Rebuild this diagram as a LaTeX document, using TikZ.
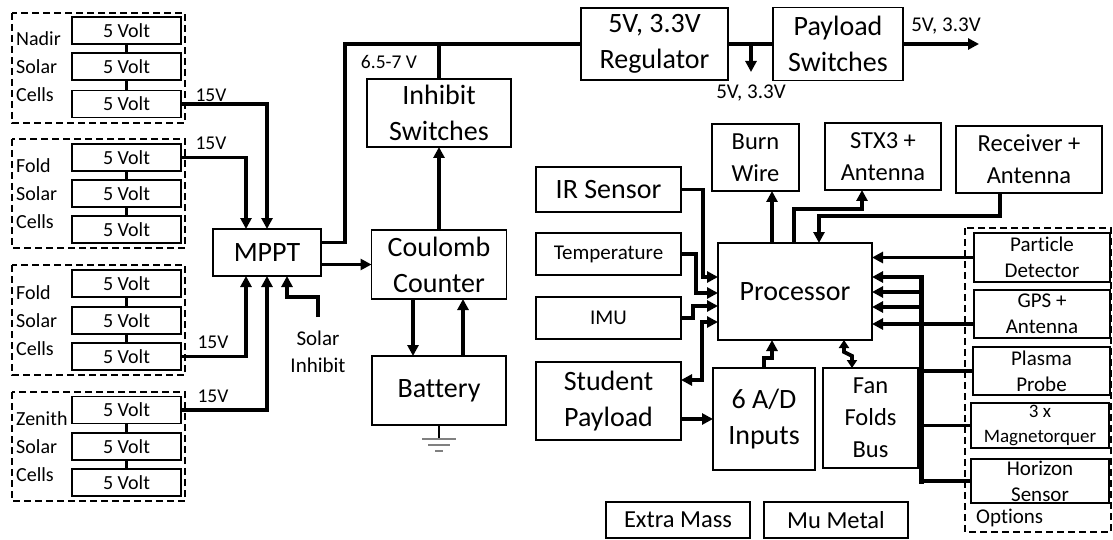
\documentclass[tikz,border=0pt]{standalone}
\usepackage{fontspec}
\setmainfont{Carlito}[Ligatures=NoCommon]
\usetikzlibrary{arrows.meta,calc}
\newcommand\bx[7]{%
  \node[frame,minimum width=#5pt,minimum height=#6pt] (#2) at (#3,#4) {};
  \node[#1] (#2-t) at (#2.center) {#7};}
\begin{document}
\begin{tikzpicture}[x=1pt,y=-1pt,
  frame/.style={draw=black,line width=1.8pt,fill=white,inner sep=0pt,outer sep=0pt},
  tbig/.style={inner sep=0pt,align=center,font=\fontsize{28}{36}\selectfont},
  tmed/.style={inner sep=0pt,align=center,font=\fontsize{24.5}{32}\selectfont},
  tsm/.style={inner sep=0pt,align=center,font=\fontsize{21}{27}\selectfont},
  topt/.style={inner sep=0pt,align=center,font=\fontsize{21}{26}\selectfont},
  tmag/.style={inner sep=0pt,align=center,font=\fontsize{19}{25}\selectfont},
  tcell/.style={inner sep=0pt,align=center,font=\fontsize{20}{24}\selectfont},
  tlab/.style={inner sep=0pt,align=left,anchor=west,font=\fontsize{20}{28}\selectfont},
  tlbl/.style={inner sep=0pt,font=\fontsize{19.5}{24}\selectfont},
  conn/.style={line width=3.8pt},
  arr/.style={conn,-{Triangle[width=11pt,length=11pt]}},
  arrb/.style={conn,{Triangle[width=10pt,length=8pt]}-{Triangle[width=10pt,length=8pt]}},
  bus/.style={line width=5pt,line cap=rect},
  dashbox/.style={draw,line width=1.7pt,dash pattern=on 7pt off 4pt},
  gnd/.style={draw=gray,line width=1.2pt},
]
\fill[white] (0,0) rectangle (1113,540);
\useasboundingbox (0,0) rectangle (1113,540);

% ---- solar panels (dashed groups)
\draw[dashbox] (12,13) rectangle (185,123);
\draw[dashbox] (12,139) rectangle (185,248);
\draw[dashbox] (12,265) rectangle (185,375);
\draw[dashbox] (12,392) rectangle (185,501);

\node[tlab] (nalab) at (16,66.5) {Nadir\\Solar\\Cells};
\node[tlab] (falab) at (16,193.5) {Fold\\Solar\\Cells};
\node[tlab] (fblab) at (16,320.5) {Fold\\Solar\\Cells};
\node[tlab] (zelab) at (16,446.5) {Zenith\\Solar\\Cells};

\bx{tcell}{na1}{126.5}{30.5}{109}{27}{5 Volt}
\bx{tcell}{na2}{126.5}{66.5}{109}{27}{5 Volt}
\bx{tcell}{na3}{126.5}{104}{109}{27}{5 Volt}
\bx{tcell}{fa1}{126.5}{157.5}{109}{27}{5 Volt}
\bx{tcell}{fa2}{126.5}{193.5}{109}{27}{5 Volt}
\bx{tcell}{fa3}{126.5}{229.5}{109}{27}{5 Volt}
\bx{tcell}{fb1}{126.5}{283.5}{109}{27}{5 Volt}
\bx{tcell}{fb2}{126.5}{320.5}{109}{27}{5 Volt}
\bx{tcell}{fb3}{126.5}{356.5}{109}{27}{5 Volt}
\bx{tcell}{ze1}{126.5}{410}{109}{27}{5 Volt}
\bx{tcell}{ze2}{126.5}{446.5}{109}{27}{5 Volt}
\bx{tcell}{ze3}{126.5}{482.5}{109}{27}{5 Volt}

\draw[conn] (na1.south) -- (na2.north);
\draw[conn] (na2.south) -- (na3.north);
\draw[conn] (fa1.south) -- (fa2.north);
\draw[conn] (fa2.south) -- (fa3.north);
\draw[conn] (fb1.south) -- (fb2.north);
\draw[conn] (fb2.south) -- (fb3.north);
\draw[conn] (ze1.south) -- (ze2.north);
\draw[conn] (ze2.south) -- (ze3.north);

% ---- power chain
\bx{tbig}{mppt}{267}{252.5}{108}{47}{MPPT}
\bx{tbig}{inh}{439}{113}{144}{68}{Inhibit\\Switches}
\bx{tbig}{cc}{439}{264.5}{135}{69}{Coulomb\\Counter}
\bx{tbig}{bat}{439}{390.5}{134}{69}{Battery}
\bx{tbig}{reg}{654.5}{44}{147}{72}{5V, 3.3V\\Regulator}
\bx{tbig}{pay}{838}{44}{130}{73}{Payload\\Switches}

\draw[arr] (na3.east) -| (mppt.north);
\draw[arr] (fa1.east) -| ($(mppt.north)+(-21,0)$);
\draw[arr] (fb3.east) -| ($(mppt.south)+(-21,0)$);
\draw[arr] (ze1.east) -| (mppt.south);
\node[tlbl] (v1) at (211,95) {15V};
\node[tlbl] (v2) at (211,143) {15V};
\node[tlbl] (v3) at (213,342) {15V};
\node[tlbl] (v4) at (213,396) {15V};

\coordinate (si) at (318,317);
\draw[arr] (si) -- ++(0,-20) -| ($(mppt.south)+(20,0)$);
\node[tsm] (silab) at (318,351.5) {Solar\\Inhibit};

\coordinate (jn) at (345,44);
\draw[conn] ([yshift=10pt]mppt.east) -| (jn) -- (reg.west);
\draw[conn] (inh.north |- jn) -- (inh.north);
\node[tlbl] (vbat) at (389,62) {6.5-7 V};

\draw[arr] (mppt.east |- cc.west) -- (cc.west);
\draw[arr] (cc.north) -- (inh.south);
\draw[arr] ($(cc.south)+(-26,0)$) -- ($(bat.north)+(-26,0)$);
\draw[arr] ($(bat.north)+(24,0)$) -- ($(cc.south)+(24,0)$);

\coordinate (g0) at ($(bat.south)+(0,14)$);
\draw[line width=2.5pt] (bat.south) -- (g0);
\draw[gnd] ($(g0)+(-17,0)$) -- ($(g0)+(17,0)$);
\draw[gnd] ($(g0)+(-11,6)$) -- ($(g0)+(11,6)$);
\draw[gnd] ($(g0)+(-4,12)$) -- ($(g0)+(4,12)$);

\draw[conn] (reg.east) -- (pay.west);
\coordinate (rd) at (751,72);
\draw[arr] (rd |- reg.east) -- (rd);
\node[tsm] (vreg) at (751,93) {5V, 3.3V};
\coordinate (po) at (979,44);
\draw[arr] (pay.east) -- (po);
\node[tsm] (vpay) at (946,26) {5V, 3.3V};

% ---- processor side
\bx{tmed}{burn}{755.5}{157.5}{87}{67}{Burn\\Wire}
\bx{tmed}{stx}{883}{156.5}{116}{67}{STX3 +\\Antenna}
\bx{tmed}{rec}{1029}{159.5}{146}{67}{Receiver +\\Antenna}
\bx{tbig}{proc}{795}{291.5}{154}{97}{Processor}
\bx{tbig}{ir}{608.5}{189.5}{145}{45}{IR Sensor}
\bx{tsm}{temp}{608.5}{254}{145}{42}{Temperature}
\bx{tsm}{imu}{608.5}{318}{145}{42}{IMU}
\bx{tbig}{stu}{608.5}{401}{145}{78}{Student\\Payload}
\bx{tbig}{ad}{764}{419}{102}{102}{6 A/D\\Inputs}
\bx{tmed}{fan}{870.5}{418}{95}{100}{Fan\\Folds\\Bus}
\bx{tmed}{extra}{678}{520}{144}{36}{Extra Mass}
\bx{tmed}{mu}{836}{520}{144}{36}{Mu Metal}

\coordinate (p1) at ($(proc.west)+(0,-14.5)$);
\coordinate (p2) at ($(proc.west)+(0,1.5)$);
\coordinate (p3) at ($(proc.west)+(0,14.5)$);
\coordinate (p4) at ($(proc.west)+(0,30.5)$);
\draw[arr] (ir.east) -| ($(p1)+(-15,0)$) -- (p1);
\draw[arr] (temp.east) -| ($(p2)+(-22,0)$) -- (p2);
\draw[arr] (imu.east) -| ($(p3)+(-25,0)$) -- (p3);
\draw[conn,{Triangle[width=11pt,length=11pt]}-{Triangle[width=11pt,length=11pt]}] (p4) -- ($(p4)+(-16,0)$) |- ($(stu.east)+(0,-21)$);
\draw[arr] (stu.east |- ad.west) -- (ad.west);
\draw[arr] (ad.north) -- ++(0,-10) -| ($(proc.south)+(-23,0)$);
\draw[arrb] ($(proc.south)+(49,0)$) -- ++(0,12) -- ++(8,4) -- ($(fan.north)+(-18.5,0)$);

\coordinate (pb) at ($(proc.north)+(-23,0)$);
\draw[arr] (pb) -- (pb |- burn.south);
\coordinate (ps) at ($(proc.north)+(-1,0)$);
\draw[arr] (ps) -- ++(0,-34) -| ($(stx.south)+(-21,0)$);
\coordinate (rp) at ($(rec.south)+(-29,0)$);
\draw[arr] (rp) -- ++(0,23) -| ($(proc.north)+(24,0)$);

% ---- options
\draw[dashbox] (965,228) rectangle (1111,532);
\bx{topt}{part}{1042}{257.5}{136}{49}{Particle\\Detector}
\bx{topt}{gps}{1042}{314}{136}{48}{GPS +\\Antenna}
\bx{topt}{plas}{1041.5}{371}{137}{48}{Plasma\\Probe}
\bx{tmag}{mag}{1040}{425.5}{138}{45}{3 x\\Magnetorquer}
\bx{topt}{hor}{1040}{481}{138}{44}{Horizon\\Sensor}
\node[tsm,anchor=west] (optlab) at (976,518) {Options};

\coordinate (b1) at (921,277);
\coordinate (b2) at (921,292);
\coordinate (b3) at (921,307);
\coordinate (gl) at ($(gps.west)+(0,10)$);
\draw[bus] (b1) -- (b1 |- hor.west);
\draw[arr] (part.west) -- (part.west -| proc.east);
\draw[arr] (b1) -- (b1 -| proc.east);
\draw[arr] (b2) -- (b2 -| proc.east);
\draw[arr] (b3) -- (b3 -| proc.east);
\draw[arr] (gl) -- (gl -| proc.east);
\draw[conn] (plas.west) -- (plas.west -| b1);
\draw[conn] (mag.west) -- (mag.west -| b1);
\draw[conn] (hor.west) -- (hor.west -| b1);
\end{tikzpicture}
\end{document}
